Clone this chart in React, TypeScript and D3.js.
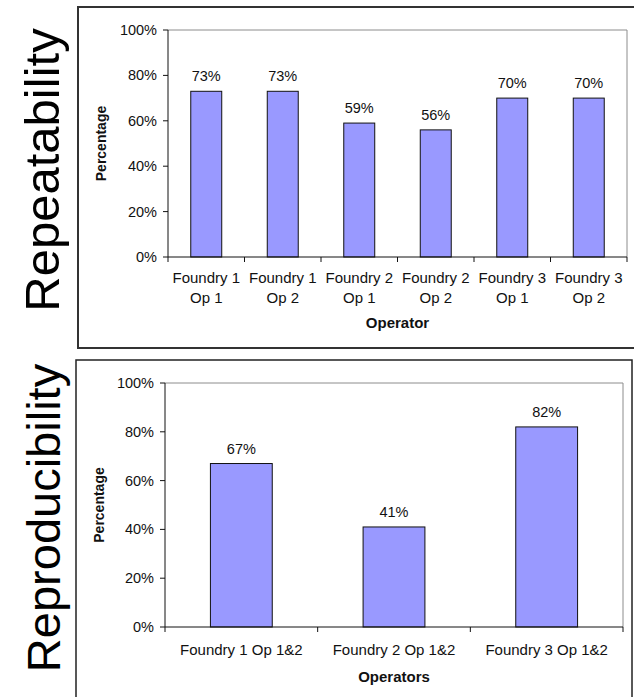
import React, { useEffect, useRef } from "react";
import * as d3 from "d3";

const repCategories: string[][] = [
  ["Foundry 1", "Op 1"],
  ["Foundry 1", "Op 2"],
  ["Foundry 2", "Op 1"],
  ["Foundry 2", "Op 2"],
  ["Foundry 3", "Op 1"],
  ["Foundry 3", "Op 2"],
];
const repValues: number[] = [0.73, 0.73, 0.59, 0.56, 0.7, 0.7];

const reproCategories: string[][] = [
  ["Foundry 1 Op 1&2"],
  ["Foundry 2 Op 1&2"],
  ["Foundry 3 Op 1&2"],
];
const reproValues: number[] = [0.67, 0.41, 0.82];

const yTicks: number[] = [0, 0.2, 0.4, 0.6, 0.8, 1.0];

const FONT = "'Liberation Sans', Arial, sans-serif";
const BAR_FILL = "#9999FF";

interface ChartCfg {
  categories: string[][];
  values: number[];
  left: number;
  right: number;
  top: number;
  bottom: number;
  xTitle: string;
  xLabelOffset: number;
  xTitleOffset: number;
  yTitleX: number;
  tickLabelGap: number;
}

function drawChart(svg: d3.Selection<SVGGElement, unknown, null, undefined>, cfg: ChartCfg) {
  const keys = cfg.categories.map((c) => c.join(" "));
  const x = d3
    .scaleBand<string>()
    .domain(keys)
    .range([cfg.left, cfg.right])
    .paddingInner(0.595)
    .paddingOuter(0.2975);
  const y = d3.scaleLinear().domain([0, 1]).range([cfg.bottom, cfg.top]);
  const step = x.step();
  const g = svg.append("g");

  g.append("path")
    .attr("d", `M${cfg.left},${cfg.top}H${cfg.right}V${cfg.bottom}`)
    .attr("fill", "none")
    .attr("stroke", "#8c8c8c")
    .attr("stroke-width", 1);

  g.selectAll("rect.bar")
    .data(cfg.values)
    .join("rect")
    .attr("class", "bar")
    .attr("x", (_, i) => x(keys[i])!)
    .attr("width", x.bandwidth())
    .attr("y", (d) => y(d))
    .attr("height", (d) => cfg.bottom - y(d))
    .attr("fill", BAR_FILL)
    .attr("stroke", "#111")
    .attr("stroke-width", 1);

  g.selectAll("text.val")
    .data(cfg.values)
    .join("text")
    .attr("class", "val")
    .attr("x", (_, i) => x(keys[i])! + x.bandwidth() / 2)
    .attr("y", (d) => y(d) - 10)
    .attr("text-anchor", "middle")
    .attr("font-family", FONT)
    .attr("font-size", 14.5)
    .attr("fill", "#111")
    .text((d) => d3.format(".0%")(d));

  g.append("line")
    .attr("x1", cfg.left)
    .attr("x2", cfg.left)
    .attr("y1", cfg.top)
    .attr("y2", cfg.bottom)
    .attr("stroke", "#111");
  yTicks.forEach((t) => {
    g.append("line")
      .attr("x1", cfg.left - 5)
      .attr("x2", cfg.left)
      .attr("y1", y(t))
      .attr("y2", y(t))
      .attr("stroke", "#111");
    g.append("text")
      .attr("x", cfg.left - cfg.tickLabelGap)
      .attr("y", y(t) + 5)
      .attr("text-anchor", "end")
      .attr("font-family", FONT)
      .attr("font-size", 14.5)
      .attr("fill", "#111")
      .text(d3.format(".0%")(t));
  });

  g.append("line")
    .attr("x1", cfg.left)
    .attr("x2", cfg.right)
    .attr("y1", cfg.bottom)
    .attr("y2", cfg.bottom)
    .attr("stroke", "#111");
  for (let i = 0; i <= keys.length; i++) {
    const tx = i < keys.length ? x(keys[i])! - (step - x.bandwidth()) / 2 : cfg.right;
    g.append("line")
      .attr("x1", tx)
      .attr("x2", tx)
      .attr("y1", cfg.bottom)
      .attr("y2", cfg.bottom + 5)
      .attr("stroke", "#111");
  }
  cfg.categories.forEach((lines, i) => {
    const t = g
      .append("text")
      .attr("text-anchor", "middle")
      .attr("font-family", FONT)
      .attr("font-size", 15)
      .attr("fill", "#111");
    lines.forEach((ln, j) => {
      t.append("tspan")
        .attr("x", x(keys[i])! + x.bandwidth() / 2)
        .attr("y", cfg.bottom + cfg.xLabelOffset + j * 20)
        .text(ln);
    });
  });

  g.append("text")
    .attr("x", (cfg.left + cfg.right) / 2)
    .attr("y", cfg.bottom + cfg.xTitleOffset)
    .attr("text-anchor", "middle")
    .attr("font-family", FONT)
    .attr("font-weight", "bold")
    .attr("font-size", 15)
    .attr("fill", "#111")
    .text(cfg.xTitle);
  const cy = (cfg.top + cfg.bottom) / 2;
  g.append("text")
    .attr("transform", `translate(${cfg.yTitleX},${cy}) rotate(-90)`)
    .attr("text-anchor", "middle")
    .attr("font-family", FONT)
    .attr("font-weight", "bold")
    .attr("font-size", 14)
    .attr("fill", "#111")
    .text("Percentage");
}

export default function App() {
  const ref = useRef<SVGSVGElement>(null);
  useEffect(() => {
    const root = d3.select(ref.current!);
    root.selectAll("*").remove();
    const g = root.append("g");

    g.append("rect")
      .attr("x", 78)
      .attr("y", 7)
      .attr("width", 600)
      .attr("height", 341)
      .attr("fill", "none")
      .attr("stroke", "#333")
      .attr("stroke-width", 2);
    g.append("rect")
      .attr("x", 76)
      .attr("y", 360)
      .attr("width", 556)
      .attr("height", 360)
      .attr("fill", "none")
      .attr("stroke", "#222")
      .attr("stroke-width", 1.5);

    g.append("text")
      .attr("transform", `translate(59,170) rotate(-90)`)
      .attr("text-anchor", "middle")
      .attr("font-family", FONT)
      .attr("font-size", 49)
      .attr("fill", "#000")
      .text("Repeatability");
    g.append("text")
      .attr("transform", `translate(60,518) rotate(-90)`)
      .attr("text-anchor", "middle")
      .attr("font-family", FONT)
      .attr("font-size", 47)
      .attr("fill", "#000")
      .text("Reproducibility");

    drawChart(g, {
      categories: repCategories,
      values: repValues,
      left: 168,
      right: 627,
      top: 30,
      bottom: 257,
      xTitle: "Operator",
      xLabelOffset: 26,
      xTitleOffset: 71,
      yTitleX: 106,
      tickLabelGap: 11,
    });
    drawChart(g, {
      categories: reproCategories,
      values: reproValues,
      left: 165,
      right: 623,
      top: 383,
      bottom: 627,
      xTitle: "Operators",
      xLabelOffset: 28,
      xTitleOffset: 55,
      yTitleX: 104,
      tickLabelGap: 11,
    });
  }, []);
  return (
    <svg
      ref={ref}
      width={634}
      height={697}
      style={{ position: "absolute", left: 0, top: 0, background: "#fff" }}
    />
  );
}
